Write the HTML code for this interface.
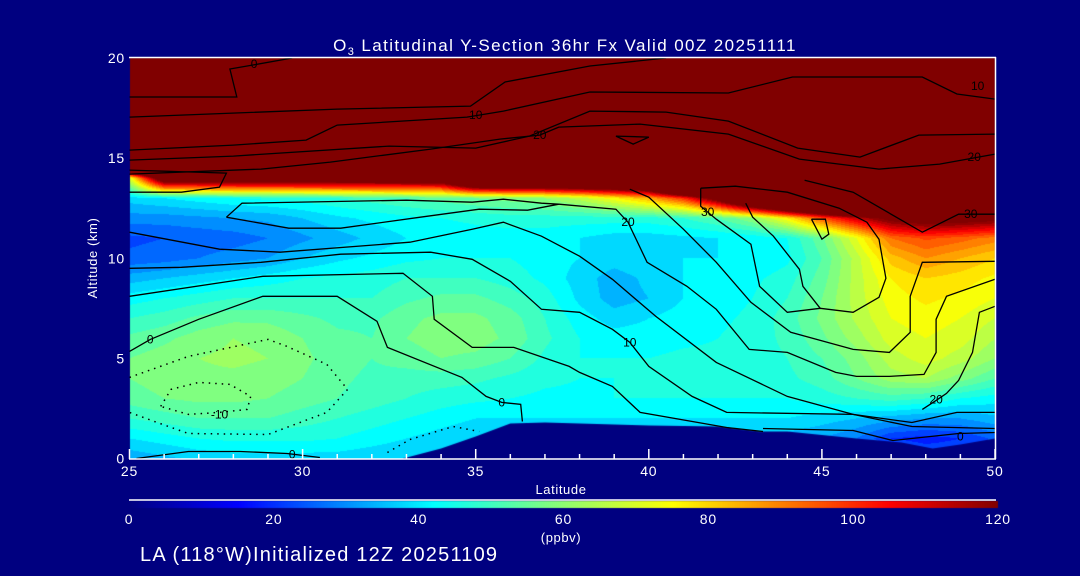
<!DOCTYPE html>
<html><head><meta charset="utf-8"><style>
html,body{margin:0;padding:0;background:#000080;}
#wrap{position:relative;width:1080px;height:576px;background:#000080;overflow:hidden;font-family:"Liberation Sans",sans-serif;}
canvas{position:absolute;left:0;top:0;}
svg{position:absolute;left:0;top:0;}
</style></head><body>
<div id="wrap">
<canvas id="cv" width="1080" height="576"></canvas>
<svg id="sv" width="1080" height="576"></svg>
</div>
<script>
// ---- data ----
const lats = [25,26,27,28,29,30,31,32,33,34,35,36,37,38,39,40,41,42,43,44,45,46,47,48,49,50];
const alts = [0,1,2,3,4,5,6,7,8,9,10,11,12,13,14,15,16,17,18,19,20];
const T=250;
const o3_a0  = [33,35,37,38,38,38,38,37,36,36,36,36,36,36,36,36,36,36,36,36,36,36,30,25,25,25];
const o3_a1  = [40,42,44,45,45,45,44,42,40,38,36,36,36,36,36,36,36,36,36,34,32,28,20,18,20,25];
const o3_a2  = [48,50,52,52,52,50,48,46,44,42,40,40,40,40,40,40,40,40,40,40,38,36,34,32,32,35];
const o3_a3  = [54,56,57,57,56,54,52,50,48,46,45,44,43,43,44,44,44,44,44,44,46,48,50,48,44,42];
const o3_a4  = [56,58,59,59,58,56,53,51,50,50,49,47,45,44,44,45,46,46,46,47,50,56,62,64,58,52];
const o3_a5  = [56,58,60,61,60,57,54,52,54,56,55,52,47,44,44,44,45,45,46,48,52,58,66,70,66,60];
const o3_a6  = [53,55,58,60,59,56,53,52,56,58,58,55,49,44,42,42,43,44,46,49,55,62,70,72,70,64];
const o3_a7  = [48,50,53,55,55,53,51,51,55,57,57,54,48,42,38,40,42,43,45,50,57,65,72,74,72,68];
const o3_a8  = [42,44,46,48,48,48,48,48,51,53,53,50,46,39,34,36,40,42,44,48,56,66,74,77,75,72];
const o3_a9  = [34,36,38,40,42,44,45,46,48,48,48,46,43,38,34,37,40,42,43,46,54,66,76,80,78,75];
const o3_a10 = [25,26,28,30,32,36,39,41,43,44,44,44,42,40,38,40,40,40,40,43,52,66,82,88,84,80];
const o3_a11 = [23,24,25,26,28,31,34,37,40,41,42,42,42,40,38,38,39,40,41,44,55,72,92,97,94,90];
const o3_a12 = [30,30,31,32,33,36,39,41,43,44,45,46,46,46,46,46,48,52,60,76,96,112,125,130,128,125];
const o3_a13 = [38,40,42,44,45,46,48,50,52,54,56,58,60,66,75,85,100,130,170,200,220,240,250,250,250,250];
const o3_a14 = [70,140,140,140,140,140,140,140,140,140,180,180,180,180,180,180,250,250,250,250,250,250,250,250,250,250];
const o3_top = [T,T,T,T,T,T,T,T,T,T,T,T,T,T,T,T,T,T,T,T,T,T,T,T,T,T];
const field = [o3_a0,o3_a1,o3_a2,o3_a3,o3_a4,o3_a5,o3_a6,o3_a7,o3_a8,o3_a9,o3_a10,o3_a11,o3_a12,o3_a13,o3_a14,o3_top,o3_top,o3_top,o3_top,o3_top,o3_top];
const terrainLat = [32.9,34,35,36,37,40,42,43.2,44,46,47.3,48.2,49,50];
const terrainAlt = [0,0.5,1.1,1.75,1.8,1.65,1.6,1.35,1.35,1.0,0.8,0.5,0.7,1.0];
const xTicks = [25,30,35,40,45,50];
const yTicks = [0,5,10,15,20];
const cbTicks = [0,20,40,60,80,100,120];
// contour lines [lat,alt]
const cL1 = [[25,18.05],[28.1,18.05],[27.9,19.45],[28.4,19.6],[29.7,20]];
const cL2 = [[25,17.05],[31,17.45],[34.85,17.6],[35.85,18.8],[38.3,19.6],[40.5,20]];
const cL3 = [[25,15.4],[28,15.65],[30.1,15.9],[31,16.65],[34.75,17.05],[35.8,17.35],[38.3,18.3],[42.3,18.25],[44.15,19.05],[47.9,19.05],[48.9,18.2],[50,17.95]];
const cL4 = [[25,14.9],[28,15.1],[32.5,15.6],[35,15.5],[36.55,16.1],[38.3,17.35],[40.5,17.3],[42.3,16.85],[44.3,15.5],[46.1,15.05],[47.8,16.15],[50,16.2]];
const cL5 = [[25,14.2],[28.8,14.45],[30.8,14.8],[33.7,15.45],[35.7,15.95],[36.85,16.15],[37.4,16.55],[39.75,16.7],[42.3,16.2],[44.35,14.95],[46.65,14.45],[48.4,14.7],[50,15.2]];
const cTri = [[39.05,16.1],[40.0,16.05],[39.55,15.7],[39.05,16.1]];
const cL6 = [[25,14.4],[27.8,14.25],[27.6,13.55],[26.5,13.3],[25,13.3]];
const cA = [[27.8,12.05],[28.25,12.75],[33,12.9],[34.9,12.8],[35.8,12.95],[36.9,12.75],[37.4,12.7],[39.05,12.45],[39.4,11.8],[39.95,9.8],[41.1,8.6],[41.95,7.45],[42.9,5.45],[44,5.3],[45.4,4.3],[46,4.1],[46.95,4.1],[47.95,4.2],[48.3,5.3],[48.3,6.95],[48.6,8.1],[50,8.95]];
const cA2 = [[27.8,12.05],[29.6,11.5],[31.1,11.5],[33.4,12.05],[35.1,12.45],[36.5,12.4],[37.4,12.7]];
const cB = [[25,11.3],[27.6,10.45],[29.35,10.3],[33.1,10.8],[34.9,11.45],[35.8,11.8],[36.9,11.1],[38,10.1],[38.95,8.95],[40.2,7.1],[41.95,4.8],[44,3.1],[45.9,2.2],[47.6,1.8],[48.9,2.3],[50,2.3]];
const cF = [[39.45,13.45],[40,13.05],[41,11.45],[41.95,9.8],[42.95,7.8],[44.1,6.3],[45.9,5.45],[46.95,5.3],[47.55,6.3],[47.55,8.1],[47.9,9.8],[50,9.85]];
const cG = [[41.5,13.5],[41.5,12.6],[41.95,11.95],[42.95,10.7],[43.2,8.6],[44,7.3],[44.95,7.5],[45.9,7.3],[46.65,8.05],[46.85,9.0],[46.65,10.95],[46.3,11.8],[45.5,12.5],[44,13.3],[42.5,13.6],[41.5,13.5]];
const cG2 = [[44.5,13.9],[45.9,13.3],[47.9,11.3],[48.95,12.2],[50,12.2]];
const cH = [[42.8,12.75],[43.0,12.05],[43.6,11.1],[44.35,9.45],[44.45,8.6],[44.95,7.5]];
const cDia = [[44.7,11.95],[45.1,11.95],[45.2,11.2],[45.0,10.95],[44.7,11.95]];
const cC = [[25,9.5],[26.5,9.55],[28.8,9.8],[31.1,10.2],[33.7,10.3],[34.9,9.95],[36,8.85],[36.9,7.45],[38,7.3],[38.95,6.45],[39.45,5.8],[40,4.6],[41.25,3.1],[42.25,2.3],[45.9,2.2],[47.6,1.6],[50,1.5]];
const cU0 = [[25,8.1],[28.85,9.1],[32.9,9.25],[33.75,8.1],[33.8,6.95],[34.9,5.55],[36.1,5.55],[37.7,4.6],[38,4.3],[38.95,3.6],[39.75,2.3],[42.25,1.55],[43.3,1.35]];
const cZ = [[25,5.35],[25.6,5.95],[27.0,6.95],[28.85,8.1],[31,8.1],[32.15,6.85],[32.45,5.55],[34.6,4.05],[35.3,3.1],[35.75,2.8],[36.3,2.7],[36.35,1.85]];
const cBot = [[25.2,0],[26.7,0.35],[28.2,0.35],[29.55,0.25],[30.5,0.05]];
const cE = [[43.3,1.5],[45.9,1.4],[47.05,0.9],[48.95,1.25],[50,1.3]];
const cR20 = [[50,7.6],[49.55,7.3],[49.35,5.3],[48.95,3.9],[48.6,3.25],[48.3,2.9],[47.9,2.45]];
const dOuter = [[25,4.05],[26.7,5.1],[29,5.95],[29.55,5.6],[30.7,4.7],[31.3,3.45],[30.7,2.3],[29,1.2],[26.7,1.25],[25.8,1.8],[25,2.3]];
const dInner = [[25.9,2.6],[26.2,3.45],[27,3.8],[27.9,3.7],[28.5,3.1],[28.4,2.45],[27.6,2.3],[26.7,2.2],[25.9,2.6]];
const dBot = [[32.45,0.3],[33.1,0.95],[34.35,1.6],[35.1,1.35]];
const solidLines = [cL1,cL2,cL3,cL4,cL5,cTri,cL6,cA,cA2,cB,cF,cG,cG2,cH,cDia,cC,cU0,cZ,cBot,cE,cR20];
const dottedLines = [dOuter,dInner,dBot];
const labelText = ['0','10','10','20','20','20','30','30','10','0','0','0','-10','0','20'];
const labelLat  = [28.6,35.0,49.5,36.85,49.4,39.4,41.7,49.3,39.45,25.6,35.75,29.7,27.6,49.0,48.3];
const labelAlt  = [19.7,17.15,18.6,16.15,15.05,11.8,12.3,12.2,5.8,5.95,2.8,0.2,2.2,1.1,2.95];

// ---- axes ----
const X0=129.5,X1=995,Y0=458.5,Y1=58;
const xs = lat => X0 + (lat-25)/25*(X1-X0);
const ys = alt => Y0 - alt/20*(Y0-Y1);
const cbx = v => 129 + v/120*(998-129);

const stops=[[0,[0,0,128]],[15,[0,0,255]],[42,[0,255,255]],[58,[128,255,128]],[75,[255,255,0]],[105,[255,0,0]],[120,[128,0,0]]];
function cmap(v){
  if(v<=0) return stops[0][1]; if(v>=120) return stops[stops.length-1][1];
  for(let i=0;i<stops.length-1;i++){const a=stops[i],b=stops[i+1];
    if(v>=a[0]&&v<=b[0]){const t=(v-a[0])/(b[0]-a[0]);return [0,1,2].map(k=>Math.round(a[1][k]+t*(b[1][k]-a[1][k])));}}
}
function fieldAt(lat,alt){
  let i=Math.min(Math.max(lat-25,0),24.999), j=Math.min(Math.max(alt,0),19.999);
  const i0=Math.floor(i),j0=Math.floor(j),fi=i-i0,fj=j-j0;
  const v00=field[j0][i0],v10=field[j0][i0+1],v01=field[j0+1][i0],v11=field[j0+1][i0+1];
  return (v00*(1-fi)+v10*fi)*(1-fj)+(v01*(1-fi)+v11*fi)*fj;
}
const cv=document.getElementById('cv'),ctx=cv.getContext('2d');
const px0=130,px1=995,py0=58,py1=459;
const img=ctx.createImageData(px1-px0,py1-py0);
for(let y=py0;y<py1;y++){for(let x=px0;x<px1;x++){
  const lat=25+(x+0.5-X0)/(X1-X0)*25, alt=(Y0-(y+0.5))/(Y0-Y1)*20;
  let v=fieldAt(lat,alt); v=Math.floor(v/4)*4+2;
  const c=cmap(v); const k=((y-py0)*(px1-px0)+(x-px0))*4;
  img.data[k]=c[0];img.data[k+1]=c[1];img.data[k+2]=c[2];img.data[k+3]=255;}}
ctx.putImageData(img,px0,py0);
// terrain
ctx.fillStyle='#000080';ctx.beginPath();ctx.moveTo(xs(terrainLat[0]),ys(0));
for(let i=0;i<terrainLat.length;i++) ctx.lineTo(xs(terrainLat[i]),ys(terrainAlt[i]));
ctx.lineTo(xs(50),ys(0)+2);ctx.lineTo(xs(terrainLat[0]),ys(0)+2);ctx.closePath();ctx.fill();
// colorbar
for(let x=129;x<998;x++){const v=(x-129)/(998-129)*120;const c=cmap(v);ctx.fillStyle=`rgb(${c[0]},${c[1]},${c[2]})`;ctx.fillRect(x,501,1,7);}

// ---- svg ----
const NS='http://www.w3.org/2000/svg',sv=document.getElementById('sv');
function mk(tag,attrs,parent){const e=document.createElementNS(NS,tag);for(const k in attrs)e.setAttribute(k,attrs[k]);(parent||sv).appendChild(e);return e;}
const gC=mk('g',{});


solidLines.forEach((ln)=>{const p=mk('polyline',{points:ln.map(q=>xs(q[0]).toFixed(1)+','+ys(q[1]).toFixed(1)).join(' '),fill:'none',stroke:'#000','stroke-width':1.3},gC);
  
  });
dottedLines.forEach((ln)=>{const p=mk('polyline',{points:ln.map(q=>xs(q[0]).toFixed(1)+','+ys(q[1]).toFixed(1)).join(' '),fill:'none',stroke:'#000','stroke-width':1.5,'stroke-dasharray':'1.5 5'},gC);
  
  });
labelText.forEach((t,i)=>{const e=mk('text',{x:xs(labelLat[i]),y:ys(labelAlt[i])+4,'font-size':12,'text-anchor':'middle',fill:'#000'},gC);e.textContent=t;
  
  });
// axes frame
const gA=mk('g',{stroke:'#fff','stroke-width':1.5,fill:'none'});


mk('line',{x1:129,y1:57.5,x2:996,y2:57.5},gA);
mk('line',{x1:995.5,y1:57,x2:995.5,y2:459},gA);
mk('line',{x1:129,y1:459,x2:996,y2:459},gA);
for(let l=25;l<=50;l++){const maj=(l%5===0);const t=mk('line',{x1:xs(l),x2:xs(l),y1:459,y2:459-(maj?10:5)},gA);
  
  }
mk('line',{x1:129,y1:500,x2:996,y2:500},gA);
const T0={fill:'#fff','font-size':14,'letter-spacing':0.8};
xTicks.forEach(v=>{const e=mk('text',Object.assign({x:xs(v),y:476,'text-anchor':'middle'},T0));e.textContent=v;
  
  });
yTicks.forEach(v=>{const e=mk('text',Object.assign({x:125,y:ys(v)+5,'text-anchor':'end'},T0));e.textContent=v;
  
  });
cbTicks.forEach(v=>{const e=mk('text',Object.assign({x:cbx(v),y:524,'text-anchor':'middle'},T0));e.textContent=v;
  
  });
</script>
<svg width="1080" height="576" style="position:absolute;left:0;top:0">
<text x="565" y="51" fill="#fff" font-size="17" letter-spacing="1.4" text-anchor="middle" font-family="Liberation Sans, sans-serif">O<tspan font-size="11" dy="4">3</tspan><tspan dy="-4"> Latitudinal Y-Section 36hr  Fx Valid 00Z 20251111</tspan></text>
<text x="97" y="258" fill="#fff" font-size="13" letter-spacing="0.6" text-anchor="middle" transform="rotate(-90 97 258)" font-family="Liberation Sans, sans-serif">Altitude (km)</text>
<text x="561" y="494" fill="#fff" font-size="13" letter-spacing="0.6" text-anchor="middle" font-family="Liberation Sans, sans-serif">Latitude</text>
<text x="561" y="542" fill="#fff" font-size="13" letter-spacing="0.6" text-anchor="middle" font-family="Liberation Sans, sans-serif">(ppbv)</text>
<text x="140" y="561" fill="#fff" font-size="20" letter-spacing="1.2" font-family="Liberation Sans, sans-serif">LA (118°W)Initialized 12Z 20251109</text>
</svg>
</body></html>
